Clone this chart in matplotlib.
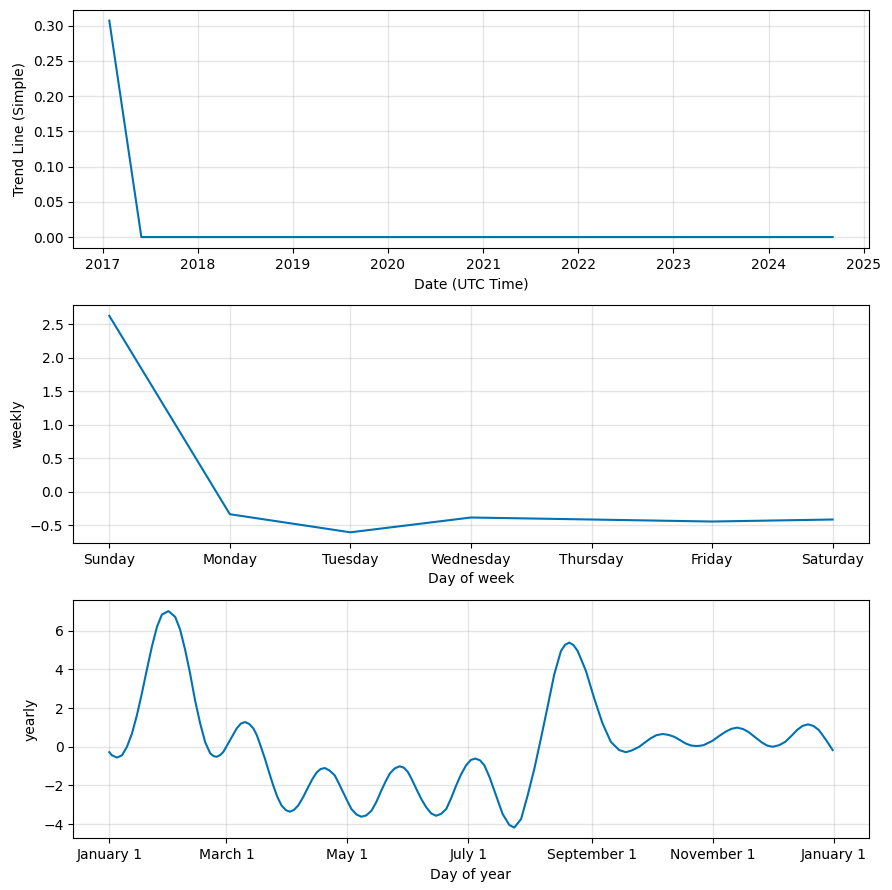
import numpy as np
import pandas as pd
import matplotlib
matplotlib.use('Agg')
import matplotlib.pyplot as plt
from matplotlib.dates import MonthLocator, num2date
from matplotlib.ticker import FuncFormatter

color = '#0072B2'

# trend component
trend_dates = ['2017-01-27', '2017-05-30', '2024-09-03']
trend_vals = [0.307, 0.0, 0.0]

# weekly component
week_days = ['Sunday', 'Monday', 'Tuesday', 'Wednesday', 'Thursday', 'Friday', 'Saturday']
weekly_vals = [2.625, -0.335, -0.605, -0.384, -0.414, -0.444, -0.414]

# yearly component: day of year -> value
year_days = [0, 1.3, 3.9, 6.4, 8.9, 11.4, 13.9, 16.4, 18.9, 21.5, 24, 26.5, 29.8,
             33.2, 35.7, 38.2, 40.7, 43.2, 45.8, 48.3, 50.8, 52.5, 54.1, 56, 57.5,
             60.8, 64.2, 66.3, 68.4, 70.5, 72.6, 74.3, 76.4, 78.4, 80.5, 82.6, 84.7,
             86.8, 89, 91, 93, 95.2, 97.7, 100.2, 102.3, 104.4, 106.5, 108.6, 111,
             113.6, 115.7, 117.8, 120, 122, 124.5, 127, 129.5, 132.1, 134.6, 137.1,
             139.2, 141.3, 143.8, 146.3, 148.4, 150.5, 152.6, 154.7, 157.2, 159.7,
             162.2, 164.7, 167.2, 169.8, 172.3, 174.8, 177.3, 179.8, 182.2, 184.5,
             186.8, 189, 191.6, 194.9, 198.2, 201.6, 204.1, 207.5, 210.8, 214.2,
             217.5, 220.9, 224.2, 227.6, 229.7, 231.8, 233.9, 236, 240.2, 244.3,
             248.5, 252.7, 256.9, 260.3, 263, 265.3, 267, 269.9, 272.8, 275.7, 278.7,
             281.6, 284.6, 287.5, 290.4, 293, 295.5, 297.6, 299.6, 303.8, 307.2,
             310.6, 313.5, 316.4, 319.3, 322.3, 325.6, 329, 331.6, 334.3, 337.5,
             340.7, 343.6, 346.6, 349.3, 352.1, 354.8, 357.5, 361, 364.5]
year_vals = [-0.28, -0.44, -0.56, -0.44, 0.00, 0.68, 1.63, 2.76, 3.98, 5.20, 6.20, 6.84,
             7.02, 6.72, 6.06, 5.02, 3.80, 2.41, 1.20, 0.24, -0.33, -0.48, -0.52, -0.42,
             -0.26, 0.34, 0.95, 1.20, 1.28, 1.18, 0.95, 0.61, 0.00, -0.61, -1.32, -2.00,
             -2.60, -3.04, -3.28, -3.36, -3.27, -3.04, -2.60, -2.09, -1.68, -1.34, -1.15,
             -1.10, -1.23, -1.48, -1.90, -2.35, -2.82, -3.22, -3.50, -3.62, -3.55, -3.31,
             -2.85, -2.26, -1.80, -1.39, -1.12, -1.01, -1.08, -1.31, -1.72, -2.18, -2.70,
             -3.13, -3.45, -3.57, -3.47, -3.22, -2.65, -2.00, -1.42, -0.96, -0.68, -0.61,
             -0.70, -0.96, -1.57, -2.52, -3.48, -4.05, -4.18, -3.74, -2.52, -1.13, 0.43,
             2.09, 3.74, 4.96, 5.28, 5.39, 5.26, 4.96, 3.92, 2.52, 1.22, 0.26, -0.17,
             -0.28, -0.20, -0.09, 0.00, 0.22, 0.44, 0.60, 0.66, 0.62, 0.52, 0.35, 0.17,
             0.07, 0.04, 0.05, 0.09, 0.30, 0.55, 0.78, 0.93, 0.99, 0.92, 0.75, 0.48, 0.21,
             0.06, 0.00, 0.08, 0.26, 0.55, 0.87, 1.08, 1.16, 1.08, 0.87, 0.38, -0.17]

fig, axes = plt.subplots(3, 1, figsize=(8.92, 8.9), dpi=100)
fig.subplots_adjust(left=0.082, right=0.974, top=0.989, bottom=0.058, hspace=0.24)

# trend
ax = axes[0]
ax.plot(pd.to_datetime(trend_dates), trend_vals, ls='-', c=color)
ax.grid(True, which='major', c='gray', ls='-', lw=1, alpha=0.2)
ax.set_xlabel('Date (UTC Time)')
ax.set_ylabel('Trend Line (Simple)')

# weekly
ax = axes[1]
ax.plot(range(len(week_days)), weekly_vals, ls='-', c=color)
ax.set_xticks(range(len(week_days)))
ax.set_xticklabels(week_days)
ax.grid(True, which='major', c='gray', ls='-', lw=1, alpha=0.2)
ax.set_xlabel('Day of week')
ax.set_ylabel('weekly')

# yearly
ax = axes[2]
yd = pd.Timestamp('2017-01-01') + pd.to_timedelta(year_days, unit='D')
ax.plot(yd, year_vals, ls='-', c=color)
ax.xaxis.set_major_locator(MonthLocator(range(1, 13), bymonthday=1, interval=2))
ax.xaxis.set_major_formatter(FuncFormatter(
    lambda x, pos=None: '{dt:%B} {dt.day}'.format(dt=num2date(x))))
ax.grid(True, which='major', c='gray', ls='-', lw=1, alpha=0.2)
ax.set_xlabel('Day of year')
ax.set_ylabel('yearly')

fig.savefig('out.png')
